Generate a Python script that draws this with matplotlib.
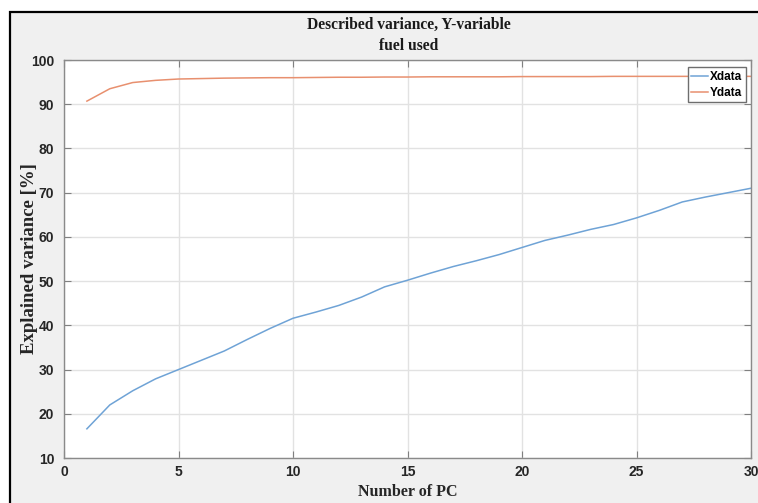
import matplotlib
matplotlib.use('Agg')
import matplotlib.pyplot as plt
from matplotlib.patches import Rectangle

# explained variance per number of PCs
n_pc = list(range(1, 31))
xdata = [16.6, 22.0, 25.2, 27.9, 30.0, 32.1, 34.2, 36.8, 39.3, 41.6,
         43.0, 44.5, 46.4, 48.7, 50.2, 51.8, 53.3, 54.6, 56.0, 57.6,
         59.2, 60.4, 61.7, 62.8, 64.3, 66.0, 67.9, 69.0, 70.0, 71.0]
ydata = [90.7, 93.5, 94.9, 95.4, 95.7, 95.8, 95.9, 95.95, 96.0, 96.0,
         96.05, 96.1, 96.1, 96.15, 96.15, 96.2, 96.2, 96.2, 96.2, 96.25,
         96.25, 96.25, 96.25, 96.3, 96.3, 96.3, 96.3, 96.3, 96.3, 96.3]

xticks = [0, 5, 10, 15, 20, 25, 30]
yticks = [10, 20, 30, 40, 50, 60, 70, 80, 90, 100]

W, H = 758, 503
fig = plt.figure(figsize=(W / 100, H / 100), dpi=100, facecolor='white')

# grey window background with black frame (cut at right/bottom)
fig.patches.append(Rectangle((10 / W, -5 / H), W / W, (H - 12 + 5) / H,
                             transform=fig.transFigure, facecolor='#f0f0f0',
                             edgecolor='black', linewidth=1.6, zorder=-10))

ax = fig.add_axes([64 / W, (H - 458) / H, 687 / W, 398 / H])
ax.set_facecolor('white')

ax.plot(n_pc, xdata, color='#6fa3d6', lw=1.1, label='Xdata')
ax.plot(n_pc, ydata, color='#e8906f', lw=1.1, label='Ydata')

ax.set_xlim(0, 30)
ax.set_ylim(10, 100)
ax.set_xticks(xticks)
ax.set_yticks(yticks)

tick_font = ['Liberation Sans', 'DejaVu Sans']
for lab in ax.get_xticklabels() + ax.get_yticklabels():
    lab.set_family(tick_font)
    lab.set_fontweight('bold')
    lab.set_fontsize(10)
    lab.set_color('#262626')

ax.tick_params(direction='in', length=5, width=0.8, color='#808080',
               top=True, right=True)
ax.tick_params(axis='x', pad=5)
ax.tick_params(axis='y', pad=7)
for s in ax.spines.values():
    s.set_color('#8a8a8a')
    s.set_linewidth(1.0)

ax.grid(True, color='#e2e2e2', linewidth=1.0)
ax.set_axisbelow(True)

serif = ['Liberation Serif', 'DejaVu Serif']
ax.set_xlabel('Number of PC', family=serif, fontweight='bold', fontsize=11.5,
              color='#262626')
ax.xaxis.set_label_coords(0.5, -(484 - 458) / 398)
ax.set_ylabel('Explained variance [%]', family=serif, fontweight='bold',
              fontsize=13.5, color='#262626')
ax.yaxis.set_label_coords(-(64 - 38) / 687, 0.5)
fig.text(409 / W, 1 - 25 / H, 'Described variance, Y-variable', family=serif,
         fontweight='bold', fontsize=11.2, ha='center', va='center', color='#1a1a1a')
fig.text(409 / W, 1 - 46 / H, 'fuel used', family=serif,
         fontweight='bold', fontsize=11.2, ha='center', va='center', color='#1a1a1a')

leg = ax.legend(loc='upper right', bbox_to_anchor=(0.9927, 0.982), borderaxespad=0,
                fancybox=False, framealpha=1, edgecolor='#6e6e6e',
                prop={'family': tick_font, 'weight': 'bold', 'size': 8.5},
                handlelength=1.4, handletextpad=0.2, borderpad=0.3,
                labelspacing=0.35)
leg.get_frame().set_linewidth(1.0)

fig.savefig('out.png', dpi=100, facecolor=fig.get_facecolor())
